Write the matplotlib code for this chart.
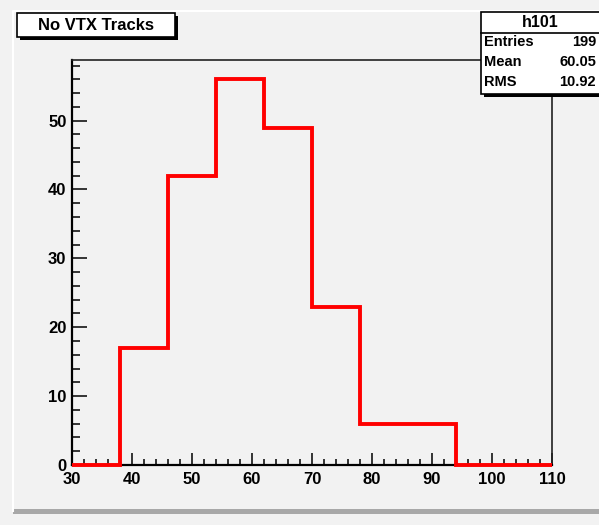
import numpy as np
import matplotlib
matplotlib.use("Agg")
import matplotlib.pyplot as plt
from matplotlib.patches import Rectangle
from matplotlib.ticker import MultipleLocator

# histogram h101: bin edges and counts
bin_edges = [30, 38, 46, 54, 62, 70, 78, 86, 94, 102, 110]
counts = [0, 17, 42, 56, 49, 23, 6, 6, 0, 0]

title = "No VTX Tracks"
hist_name = "h101"
stat_names = ["Entries", "Mean", "RMS"]
stat_values = ["199", "60.05", "10.92"]

W, H = 599, 525
bg = "#f2f2f2"
font = ["Liberation Sans Narrow", "Liberation Sans", "DejaVu Sans"]
plt.rcParams["font.family"] = font
plt.rcParams["font.weight"] = "bold"

fig = plt.figure(figsize=(W / 100, H / 100), dpi=100, facecolor=bg)

# pad frame (pixel coordinates)
over = fig.add_axes([0, 0, 1, 1], zorder=0)
over.set_xlim(0, W)
over.set_ylim(H, 0)
over.axis("off")
over.plot([13, 13, W], [511, 11, 11], color="white", lw=1.5)
over.add_patch(Rectangle((13, 509), W, 5, color="#a8a8a8", lw=0))

ax = fig.add_axes([72 / W, (H - 465) / H, 480 / W, 405 / H], zorder=1)
ax.set_facecolor(bg)
ax.stairs(counts, bin_edges, color="red", lw=2.8, zorder=5, clip_on=False)
ax.set_xlim(30, 110)
ax.set_ylim(0, 1.05 * max(counts))

ax.xaxis.set_major_locator(MultipleLocator(10))
ax.xaxis.set_minor_locator(MultipleLocator(2))
ax.yaxis.set_major_locator(MultipleLocator(10))
ax.yaxis.set_minor_locator(MultipleLocator(2))
ax.tick_params(axis="x", which="both", direction="in", top=False, width=1.1,
               labelsize=12, pad=5)
ax.tick_params(axis="x", which="major", length=8.5)
ax.tick_params(axis="x", which="minor", length=4.3)
ax.tick_params(axis="y", which="both", direction="in", right=False, width=1.1,
               labelsize=12, pad=4)
ax.tick_params(axis="y", which="major", length=10.8)
ax.tick_params(axis="y", which="minor", length=5.8)
for lab in ax.get_xticklabels() + ax.get_yticklabels():
    lab.set_fontweight("bold")
for side in ["left", "bottom"]:
    ax.spines[side].set_linewidth(1.6)
for side in ["top", "right"]:
    ax.spines[side].set_linewidth(1.2)
    ax.spines[side].set_color("#222222")

# title box and stats box drawn on top
top = fig.add_axes([0, 0, 1, 1], zorder=3)
top.set_xlim(0, W)
top.set_ylim(H, 0)
top.axis("off")
top.patch.set_alpha(0)

top.add_patch(Rectangle((20, 16), 158, 24, color="black", lw=0))
top.add_patch(Rectangle((17, 13), 158, 24, facecolor="white", edgecolor="black", lw=1.2))
top.text(96, 25.5, title, ha="center", va="center", fontsize=12, fontweight="bold",
         family=font)

top.add_patch(Rectangle((484, 15), 130, 82, color="black", lw=0))
top.add_patch(Rectangle((481, 12), 130, 82, facecolor="white", edgecolor="black", lw=1.2))
top.plot([481, W], [33, 33], color="black", lw=1.2)
top.text(540, 22.5, hist_name, ha="center", va="center", fontsize=11.5,
         fontweight="bold", family=font)
for i, (name, val) in enumerate(zip(stat_names, stat_values)):
    y = 42.5 + 19.5 * i
    top.text(484, y, name, ha="left", va="center", fontsize=10.5, fontweight="bold",
             family=font)
    top.text(596, y, val, ha="right", va="center", fontsize=10.5, fontweight="bold",
             family=font)

fig.savefig("out.png", dpi=100, facecolor=bg)
